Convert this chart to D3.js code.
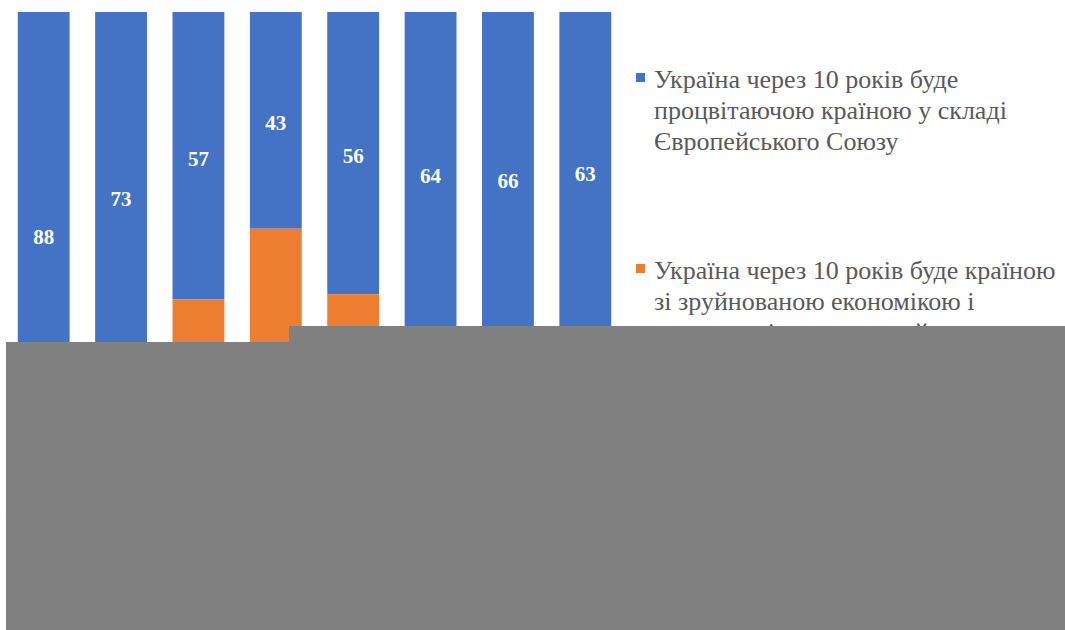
<!DOCTYPE html>
<html>
<head>
<meta charset="utf-8">
<script src="https://cdn.jsdelivr.net/npm/d3@7"></script>
<style>
  body { margin: 0; background: #fff; }
  svg { display: block; }
  text { font-family: "Liberation Serif", "DejaVu Serif", serif; }
</style>
</head>
<body>
<div id="chart"></div>
<script>
// categories are hidden under the grey box in the reference
const categories = ["1", "2", "3", "4", "5", "6", "7", "8"];
const seriesNames = [
    "Україна через 10 років буде процвітаючою країною у складі Європейського Союзу",
    "Україна через 10 років буде країною зі зруйнованою економікою і масовим відтоком людей",
    "Важко відповісти"
];
const legendLines = [
    ["Україна через 10 років буде", "процвітаючою країною у складі", "Європейського Союзу"],
    ["Україна через 10 років буде країною", "зі зруйнованою економікою і", "масовим відтоком людей"]
];
const prosperous = [88, 73, 57, 43, 56, 64, 66, 63];
// lower parts are covered, estimated
const ruined = [5, 16, 33, 47, 33, 24, 22, 25];
const hard = [7, 11, 10, 10, 11, 12, 12, 12];
const colors = ["#4472C4", "#ED7D31", "#A5A5A5"];

const W = 1065, H = 630;

const svg = d3.select("#chart")
    .append("svg")
    .attr("width", W)
    .attr("height", H);

const rows = categories.map((c, i) => ({
    cat: c,
    s0: prosperous[i],
    s1: ruined[i],
    s2: hard[i]
}));

const layers = d3.stack().keys(["s0", "s1", "s2"])(rows);

const x = d3.scaleBand()
    .domain(categories)
    .range([5, 624])
    .paddingInner(0.33)
    .paddingOuter(0.165);

// first series sits on top of the bar
const y = d3.scaleLinear()
    .domain([0, 100])
    .range([12, 516]);

const g = svg.append("g");

layers.forEach((layer, k) => {
    g.selectAll(".seg" + k)
        .data(layer)
        .enter()
        .append("rect")
        .attr("class", "seg" + k)
        .attr("x", d => x(d.data.cat))
        .attr("y", d => y(d[0]))
        .attr("width", x.bandwidth())
        .attr("height", d => y(d[1]) - y(d[0]))
        .attr("fill", colors[k]);

    g.selectAll(".lab" + k)
        .data(layer)
        .enter()
        .append("text")
        .attr("class", "lab" + k)
        .attr("x", d => x(d.data.cat) + x.bandwidth() / 2)
        .attr("y", d => (y(d[0]) + y(d[1])) / 2 + 3)
        .attr("text-anchor", "middle")
        .attr("dominant-baseline", "central")
        .attr("font-weight", "bold")
        .attr("font-size", "21px")
        .attr("fill", "white")
        .text(d => d[1] - d[0]);
});

svg.append("g")
    .attr("transform", "translate(0,516)")
    .call(d3.axisBottom(x).tickSize(0))
    .call(a => a.select(".domain").attr("stroke", "#d9d9d9"))
    .selectAll("text")
    .attr("font-size", "18px")
    .attr("fill", "#595959");

// legend
const legendTop = [88, 279];
legendLines.forEach((lines, k) => {
    const lg = svg.append("g");
    lg.append("rect")
        .attr("x", 636)
        .attr("y", legendTop[k] - 15)
        .attr("width", 9)
        .attr("height", 9)
        .attr("fill", colors[k]);
    lg.selectAll("text")
        .data(lines)
        .enter()
        .append("text")
        .attr("x", 654)
        .attr("y", (d, i) => legendTop[k] + i * 31)
        .attr("font-size", "26px")
        .attr("fill", "#595959")
        .text(d => d);
});

// grey cover block, as in the reference
svg.append("rect").attr("x", 6).attr("y", 342).attr("width", W - 6).attr("height", H - 342).attr("fill", "#808080");
svg.append("rect").attr("x", 289).attr("y", 326).attr("width", W - 289).attr("height", H - 326).attr("fill", "#808080");
</script>
</body>
</html>
